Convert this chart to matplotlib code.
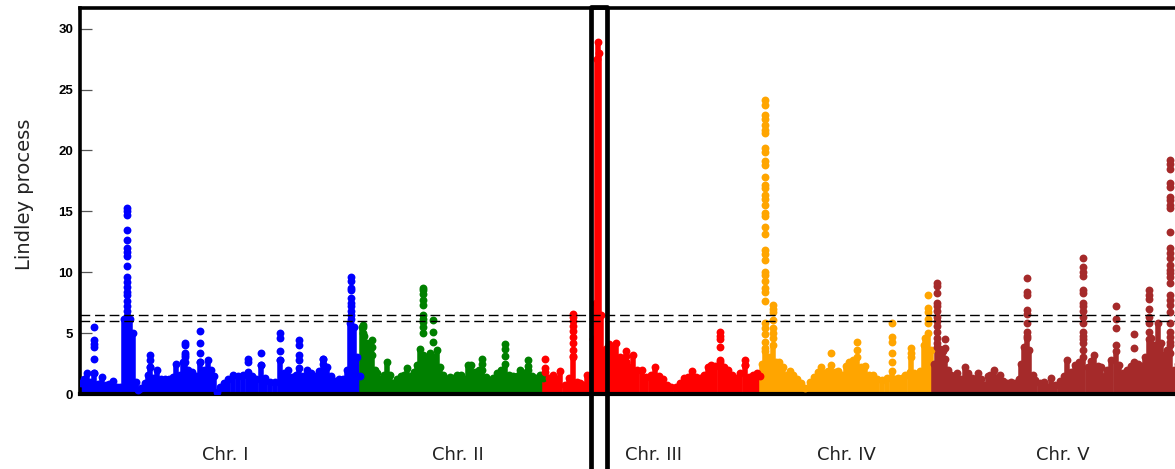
import matplotlib
matplotlib.use("Agg")
import matplotlib.pyplot as plt
import matplotlib.transforms as mtransforms
from matplotlib.patches import Rectangle

# ---------------- data ----------------
chrom_names = ["Chr. I", "Chr. II", "Chr. III", "Chr. IV", "Chr. V"]
chrom_lengths = [30.43, 19.70, 23.46, 18.59, 26.98]   # Mb
chrom_colors = ["#0000ff", "#008000", "#ff0000", "#ffa500", "#a52a2a"]
thresholds = [6.0, 6.5]

# background (dense) profile: position within chromosome (Mb), value
chr1_pos = [0.1, 0.4, 0.75, 1.1, 1.5, 1.95, 2.4, 2.8, 3.1, 3.55, 4.0, 4.3, 4.75, 5.1, 5.4, 5.7, 6.05, 6.3,
            6.6, 7.0, 7.35, 7.55, 7.9, 8.3, 8.75, 9.2, 9.6, 10.05, 10.4, 10.8, 11.15, 11.35, 11.7, 12.1,
            12.55, 13.0, 13.4, 13.85, 14.15, 14.5, 14.8, 15.15, 15.55, 16.0, 16.55, 17.1, 17.6, 18.15,
            18.6, 19.0, 19.55, 20.0, 20.55, 21.1, 21.6, 22.05, 22.5, 22.9, 23.35, 23.7, 24.1, 24.55,
            25.0, 25.4, 25.85, 26.25, 26.7, 27.15, 27.55, 28.0, 28.45, 28.9, 29.2, 29.6, 29.95, 30.3]
chr1_val = [0.9, 1.2, 1.7, 1.0, 1.7, 0.8, 1.4, 0.7, 0.8, 1.1, 0.6, 0.6, 6.2, 6.4, 6.2, 5.0, 1.0, 0.3,
            0.5, 0.9, 1.6, 2.2, 1.3, 2.0, 1.2, 1.2, 1.2, 1.4, 2.5, 1.6, 2.6, 3.0, 2.0, 1.8,
            1.5, 2.6, 2.0, 2.8, 2.0, 1.5, 0.15, 0.6, 0.9, 1.2, 1.6, 1.5, 1.6, 1.8,
            1.5, 1.2, 2.4, 1.3, 1.0, 1.0, 2.8, 1.7, 2.0, 1.4, 1.6, 2.1, 1.5, 2.0,
            1.7, 1.5, 1.9, 2.9, 2.2, 1.5, 1.1, 1.2, 1.2, 2.0, 5.8, 5.5, 3.0, 1.5]

chr2_pos = [0.05, 0.25, 0.6, 0.9, 1.1, 1.45, 1.7, 2.0, 2.4, 2.75, 3.1, 3.4, 3.85, 4.3, 4.6, 4.9, 5.35,
            5.65, 6.0, 6.3, 6.65, 6.95, 7.4, 7.7, 8.15, 8.5, 8.8, 9.25, 9.55, 10.0, 10.3, 10.75, 11.1,
            11.5, 11.85, 12.25, 12.7, 13.0, 13.45, 13.85, 14.2, 14.6, 15.05, 15.5, 15.9, 16.35, 16.8,
            17.1, 17.55, 17.95, 18.4, 18.85, 19.25, 19.6]
chr2_val = [5.5, 4.8, 4.2, 3.5, 3.2, 2.0, 1.7, 1.2, 1.6, 2.65, 1.6, 0.9, 1.2, 1.5, 1.6, 2.1, 1.5,
            1.8, 2.4, 3.7, 3.2, 3.0, 3.4, 3.0, 3.6, 2.2, 1.6, 1.2, 1.4, 1.3, 1.6, 1.6, 1.2,
            2.4, 2.4, 1.8, 2.0, 2.0, 1.4, 1.0, 1.3, 1.7, 2.0, 2.5, 1.6, 1.5, 1.5,
            2.0, 1.7, 2.0, 1.5, 1.3, 1.6, 1.3]

chr3_pos = [0.15, 0.55, 1.0, 1.45, 1.75, 2.3, 2.75, 3.15, 3.6, 3.9, 4.25, 4.65, 5.35, 5.6, 5.75, 5.85,
            5.95, 6.15, 6.5, 6.8, 7.1, 7.45, 7.85, 8.2, 8.5, 8.9, 9.35, 9.65, 10.1, 10.65, 11.1, 11.55,
            12.0, 12.45, 12.9, 13.35, 13.75, 14.3, 14.75, 15.2, 15.6, 16.05, 16.5, 16.9, 17.35, 17.8,
            18.1, 18.5, 19.05, 19.5, 19.9, 20.35, 20.8, 21.2, 21.75, 22.2, 22.6, 23.05, 23.4]
chr3_val = [1.8, 1.3, 1.6, 1.2, 1.9, 0.75, 1.3, 3.0, 1.0, 0.9, 0.75, 1.6, 4.5, 7.5, 27.5, 28.9,
            28.0, 6.5, 3.6, 3.8, 4.1, 3.9, 4.2, 3.0, 2.6, 2.6, 2.2, 3.2, 2.0, 2.0, 1.4, 1.6,
            2.2, 1.5, 1.2, 0.7, 0.6, 0.6, 0.9, 1.3, 1.4, 1.9, 1.4, 1.35, 1.6, 2.2,
            2.4, 2.3, 2.6, 2.2, 2.0, 1.6, 1.3, 1.7, 2.4, 1.4, 1.55, 1.7, 1.5]

chr4_pos = [0.15, 0.45, 0.9, 1.3, 1.65, 1.95, 2.4, 2.85, 3.15, 3.5, 3.9, 4.35, 4.8, 5.3, 5.75, 6.2,
            6.5, 6.95, 7.25, 7.6, 8.0, 8.35, 8.75, 9.2, 9.5, 9.95, 10.4, 10.85, 11.25, 11.7, 12.15,
            12.6, 13.1, 13.7, 14.15, 14.5, 14.8, 15.25, 15.65, 16.1, 16.3, 16.6, 16.95, 17.25, 17.6,
            17.8, 18.1, 18.4]
chr4_val = [2.5, 3.5, 3.0, 4.0, 2.6, 2.6, 2.2, 1.6, 1.85, 1.55, 1.2, 0.9, 0.5, 0.95, 1.4, 1.8,
            2.25, 1.7, 1.9, 2.4, 1.8, 1.85, 1.6, 2.3, 2.6, 2.8, 3.0, 2.2, 2.3, 1.6, 1.55,
            1.2, 1.15, 1.3, 1.9, 1.2, 1.35, 1.3, 1.6, 1.8, 3.0, 1.7, 1.6, 1.9, 4.0,
            4.6, 5.0, 3.6]

chr5_pos = [0.15, 0.45, 0.8, 1.1, 1.3, 1.65, 1.95, 2.3, 2.6, 3.05, 3.5, 3.8, 4.25, 4.55, 4.9, 5.2,
            5.5, 5.95, 6.25, 6.6, 6.9, 7.25, 7.65, 8.0, 8.45, 8.85, 9.3, 9.6, 9.85, 10.15, 10.45,
            10.8, 11.1, 11.55, 12.0, 12.45, 12.8, 13.2, 13.75, 14.2, 14.5, 14.95, 15.4, 15.85, 16.3,
            16.75, 17.1, 17.4, 17.85, 18.2, 18.6, 18.9, 19.25, 19.8, 20.1, 20.55, 21.0, 21.45, 21.8,
            22.25, 22.6, 23.0, 23.35, 23.65, 23.95, 24.4, 24.7, 25.0, 25.35, 25.7, 26.1, 26.5, 26.9]
chr5_val = [2.5, 3.9, 3.7, 3.5, 2.9, 2.0, 1.6, 1.3, 1.7, 1.2, 2.25, 1.7, 1.3, 1.2, 1.75, 1.2,
            0.74, 1.45, 1.6, 2.0, 1.3, 1.55, 1.1, 0.9, 1.0, 0.9, 1.2, 2.5, 3.9, 4.6, 3.6,
            1.6, 1.15, 0.9, 1.0, 0.6, 1.3, 0.74, 1.1, 1.5, 2.8, 1.8, 2.4, 2.6, 3.0,
            2.2, 2.7, 3.2, 2.3, 2.25, 1.5, 2.0, 2.8, 3.5, 2.4, 1.7, 2.0, 2.3, 2.6,
            2.5, 2.3, 3.0, 4.5, 4.6, 4.0, 5.8, 4.15, 3.2, 3.6, 4.0, 2.0, 2.5, 2.0]

# isolated dots in peak columns: position within chromosome (Mb) and the dot values
chr1_peak_pos = [1.5, 5.1, 7.55, 11.35, 13.0, 18.15, 19.55, 21.6, 23.7, 26.25, 29.3]
chr1_peak_vals = [[5.5, 4.4, 4.1, 3.9, 2.9, 1.7],
                  [15.3, 15.0, 14.7, 13.5, 12.65, 12.0, 11.7, 11.3, 10.5, 9.6, 9.2, 8.8, 8.4, 8.1, 7.6, 7.2, 6.8],
                  [3.2, 2.8, 2.2],
                  [4.2, 4.0, 3.4, 3.2, 2.6],
                  [5.2, 4.2, 3.4, 2.6],
                  [2.9, 2.6],
                  [3.4, 2.4],
                  [5.0, 4.6, 3.5, 2.8],
                  [4.4, 4.0, 3.2, 2.8],
                  [2.9, 2.5],
                  [9.6, 9.3, 8.7, 8.5, 7.9, 7.5, 7.2, 6.8, 6.5, 6.2]]
chr2_peak_pos = [0.2, 1.1, 6.65, 7.7, 13.0, 15.5, 17.95]
chr2_peak_vals = [[5.7, 5.5, 5.0],
                  [4.4, 3.9],
                  [8.7, 8.5, 8.2, 7.7, 7.3, 6.5, 6.2, 5.9, 5.5, 5.0],
                  [6.1, 5.1, 4.3],
                  [2.9, 2.5],
                  [4.1, 3.7, 3.1],
                  [2.8, 2.3]]
chr3_peak_pos = [0.15, 3.15, 8.9, 19.05, 21.75]
chr3_peak_vals = [[2.85, 2.1],
                  [6.6, 6.3, 6.0, 5.6, 5.2, 4.7, 4.2, 3.6, 3.1],
                  [3.5, 3.1, 2.6],
                  [5.1, 4.8, 4.5, 3.9, 2.8],
                  [2.8, 2.4]]
chr4_peak_pos = [0.45, 1.3, 7.6, 10.4, 14.15, 16.3, 18.1]
chr4_peak_vals = [[24.15, 23.75, 22.9, 22.6, 22.1, 21.7, 21.4, 20.2, 19.9, 19.1, 18.8, 17.85, 17.2, 16.9,
                   16.35, 16.0, 15.5, 14.85, 14.6, 13.75, 13.1, 11.8, 11.5, 11.0, 10.05, 9.8, 9.3, 8.7,
                   8.4, 7.6, 5.8, 5.4, 4.9, 4.3, 3.75],
                  [7.3, 7.0, 6.7, 6.1, 5.4, 5.0, 4.6],
                  [3.35],
                  [4.3, 3.6],
                  [5.8, 4.7, 4.3, 3.35, 2.65],
                  [3.75, 3.4],
                  [8.1, 7.05, 6.7, 6.2, 5.8]]
chr5_peak_pos = [0.45, 1.3, 10.15, 16.3, 19.8, 21.8, 23.35, 25.7]
chr5_peak_vals = [[9.15, 8.9, 8.27, 7.45, 7.2, 6.8, 6.35, 6.0, 5.6, 5.1, 4.6, 4.2],
                  [4.5, 3.8],
                  [9.5, 8.4, 8.1, 6.9, 6.6, 5.8, 5.1, 4.8],
                  [11.2, 10.45, 10.0, 9.7, 8.55, 8.3, 7.45, 7.2, 6.8, 6.35, 5.8, 5.1, 4.8, 4.5, 4.15, 3.6],
                  [7.25, 6.2, 5.4, 4.0],
                  [4.9, 3.75],
                  [8.5, 8.1, 7.8, 7.0, 6.35, 5.8, 5.1],
                  [19.2, 18.9, 18.5, 17.3, 17.0, 16.2, 15.9, 15.5, 15.25, 13.3, 12.0, 11.6, 11.2, 10.6,
                   10.2, 9.9, 9.6, 9.1, 8.1, 7.7, 7.3, 6.7, 5.8, 5.1, 4.7, 4.3, 3.35]]

# highlighted region (cumulative Mb)
highlight_start, highlight_end = 55.24, 56.97

bg_pos = [chr1_pos, chr2_pos, chr3_pos, chr4_pos, chr5_pos]
bg_val = [chr1_val, chr2_val, chr3_val, chr4_val, chr5_val]
pk_pos = [chr1_peak_pos, chr2_peak_pos, chr3_peak_pos, chr4_peak_pos, chr5_peak_pos]
pk_val = [chr1_peak_vals, chr2_peak_vals, chr3_peak_vals, chr4_peak_vals, chr5_peak_vals]

# ---------------- figure ----------------
W, H = 1175, 469
fig = plt.figure(figsize=(W / 100, H / 100), dpi=100)
total = sum(chrom_lengths)
ax_w = total * 9.25 / W
ax = fig.add_axes([80 / W, 75 / H, ax_w, 386 / H])

offsets = []
acc = 0.0
for L in chrom_lengths:
    offsets.append(acc)
    acc += L

ms = 32
for i in range(5):
    off = offsets[i]
    col = chrom_colors[i]
    xs = [p + off for p in bg_pos[i]]
    ax.vlines(xs, 0, bg_val[i], colors=col, linewidth=4.0, zorder=2)
    ax.scatter(xs, bg_val[i], s=ms, color=col, linewidths=0, zorder=3)
    for p, vals in zip(pk_pos[i], pk_val[i]):
        ax.scatter([p + off] * len(vals), vals, s=ms, color=col, linewidths=0, zorder=3)

for t in thresholds:
    ax.axhline(t, color="black", linestyle=(0, (7, 3.5)), linewidth=1.0, zorder=4)

ax.set_xlim(0, total)
ax.set_ylim(0, 31.7)
ax.set_xticks([])
ax.set_yticks([0, 5, 10, 15, 20, 25, 30])
ax.tick_params(axis="y", direction="in", length=8.5, width=0.9, color="#555555", pad=5)
for lab in ax.get_yticklabels():
    lab.set_fontfamily("Liberation Sans")
    lab.set_fontweight("bold")
    lab.set_fontsize(9.5)

for side in ["left", "top", "bottom", "right"]:
    ax.spines[side].set_color("black")
ax.spines["left"].set_linewidth(2.6)
ax.spines["top"].set_linewidth(2.6)
ax.spines["bottom"].set_linewidth(3.0)
ax.spines["right"].set_linewidth(2.6)

# chromosome labels
trans = mtransforms.blended_transform_factory(ax.transData, ax.transAxes)
label_x = [15.7, 40.9, 62.0, 82.9, 106.3]
for name, lx in zip(chrom_names, label_x):
    ax.text(lx, -0.158, name, transform=trans, ha="center", va="center",
            fontsize=13, family="DejaVu Sans", color="#222222")

# highlight box
rect = Rectangle((highlight_start, -0.3), highlight_end - highlight_start, 1.303,
                 transform=trans, fill=False, edgecolor="black", linewidth=3.4,
                 joinstyle="round", clip_on=False, zorder=6)
ax.add_patch(rect)

fig.text(25 / W, 0.585, "Lindley process", rotation=90, ha="center", va="center",
         fontsize=14, family="DejaVu Sans", color="#222222")

fig.savefig("out.png", dpi=100)
